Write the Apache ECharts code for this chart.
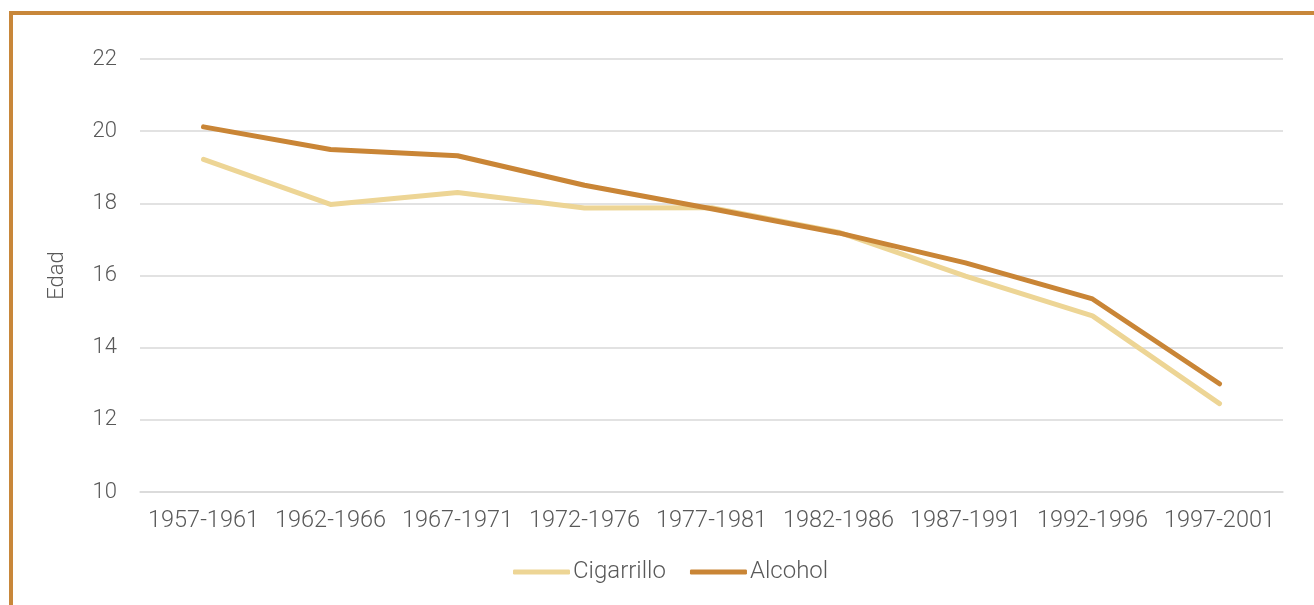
<!DOCTYPE html>
<html>
<head>
<meta charset="utf-8">
<script src="https://cdn.jsdelivr.net/npm/echarts@6/dist/echarts.min.js"></script>
<style>
html,body{margin:0;padding:0;background:#fff;}
#chart{width:1314px;height:605px;}
#frame{position:absolute;left:9px;top:11px;width:1400px;height:700px;border-left:4px solid #C8873A;border-top:4px solid #C8873A;pointer-events:none;}
</style>
</head>
<body>
<div id="chart"></div>
<div id="frame"></div>
<script>
const categories = ['1957-1961','1962-1966','1967-1971','1972-1976','1977-1981','1982-1986','1987-1991','1992-1996','1997-2001'];
const cigarrillo = [19.22, 17.97, 18.30, 17.87, 17.88, 17.20, 15.98, 14.88, 12.45];
const alcohol = [20.12, 19.49, 19.32, 18.50, 17.85, 17.18, 16.35, 15.35, 13.00];
const yTicks = {min: 10, max: 22, interval: 2};

const chart = echarts.init(document.getElementById('chart'));
const textColor = '#595959';
const font = 'Roboto';
chart.setOption({
  animation: false,
  grid: {left: 140, right: 31, top: 59, bottom: 113},
  legend: {
    bottom: 16,
    left: 508,
    icon: 'roundRect',
    itemWidth: 57,
    itemHeight: 5,
    itemGap: 24,
    textStyle: {color: textColor, fontSize: 24, fontFamily: font, fontWeight: 300, padding: [0,0,0,-2]},
    data: ['Cigarrillo', 'Alcohol']
  },
  xAxis: {
    type: 'category',
    data: categories,
    boundaryGap: true,
    axisLine: {show: true, lineStyle: {color: '#D9D9D9', width: 1.5}},
    axisTick: {show: false},
    axisLabel: {color: textColor, fontSize: 23.5, fontFamily: font, fontWeight: 300, margin: 17, interval: 0}
  },
  yAxis: {
    type: 'value',
    min: yTicks.min, max: yTicks.max, interval: yTicks.interval,
    name: 'Edad',
    nameLocation: 'middle',
    nameGap: 72,
    nameRotate: 90,
    nameTextStyle: {color: textColor, fontSize: 22, fontFamily: font, fontWeight: 300},
    axisLine: {show: false},
    axisTick: {show: false},
    splitLine: {lineStyle: {color: '#D9D9D9', width: 1.5}},
    axisLabel: {color: textColor, fontSize: 22, fontFamily: font, fontWeight: 300, margin: 23}
  },
  series: [
    {name: 'Cigarrillo', type: 'line', data: cigarrillo, symbol: 'none',
     lineStyle: {color: '#EDD595', width: 5, cap: 'round', join: 'round'}, itemStyle: {color: '#EDD595'}},
    {name: 'Alcohol', type: 'line', data: alcohol, symbol: 'none',
     lineStyle: {color: '#C98536', width: 5, cap: 'round', join: 'round'}, itemStyle: {color: '#C98536'}}
  ]
});
</script>
</body>
</html>
